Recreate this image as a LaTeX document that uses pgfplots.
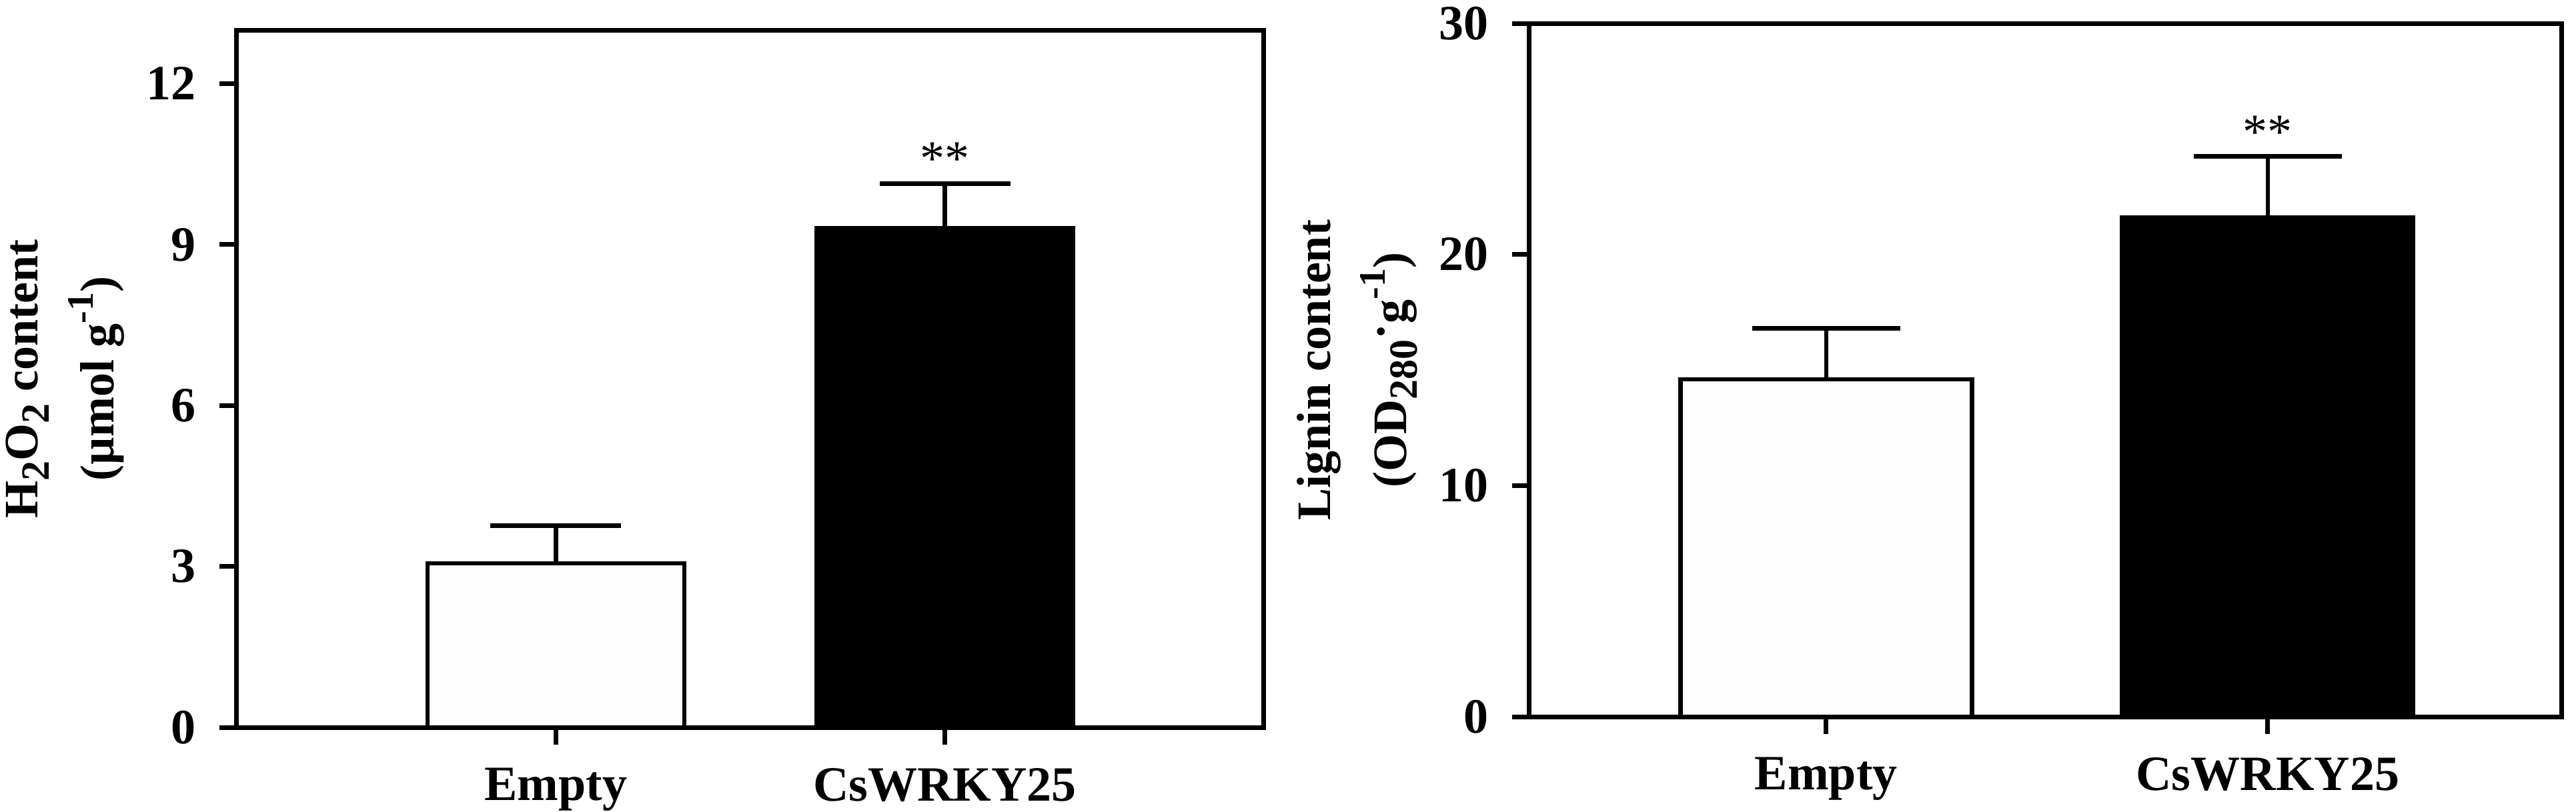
\documentclass[border=0pt]{standalone}
\usepackage{fontspec}
\setmainfont{Liberation Serif}
\usepackage{pgfplots}
\pgfplotsset{compat=1.18}
\newcommand{\sub}[1]{\raisebox{-0.5ex}{\fontsize{6}{6}\selectfont #1}}
\newcommand{\sups}[1]{\raisebox{0.95ex}{\fontsize{5.6}{6}\selectfont #1}}
\begin{document}
\begin{tikzpicture}
\path[use as bounding box] (0,0) rectangle (386.2pt,121.7pt);
\pgfplotsset{
 myax/.style={
  scale only axis,
  axis line style={line width=0.7pt},
  ybar, bar width=0.66,
  xtick={0,1}, xticklabels={Empty,CsWRKY25},
  tick align=outside, tick pos=left,
  major tick length=2.6pt,
  every tick/.style={black, line width=0.7pt},
  ymin=0,
  /pgf/number format/assume math mode=true,
  tick label style={font=\fontsize{7.4}{8}\selectfont\bfseries},
  ylabel style={font=\fontsize{7.2}{11.4}\selectfont\bfseries, align=center, at={(axis description cs:-0.167,0.5)}, anchor=center},
 },
 mybar/.style={draw=black, line width=0.65pt, bar shift=0pt,
  error bars/y dir=plus, error bars/y explicit,
  error bars/error bar style={line width=0.65pt, black},
  error bars/error mark options={rotate=90, mark size=#1, line width=0.7pt, black}},
}
\begin{axis}[myax, at={(35.5pt,12.6pt)}, anchor=south west,
  width=154pt, height=104.6pt,
  xmin=-0.82, xmax=1.82, ymax=13, ytick={0,3,6,9,12},
  ylabel={H\sub{2}O\sub{2} content\\(µmol g\sups{-1})}]
\addplot[fill=white!99.3!black, mybar=9.8pt] coordinates {(0,3.06) +- (0,0.70)};
\addplot[fill=black, mybar=9.8pt] coordinates {(1,9.30) +- (0,0.84)};
\node[font=\fontsize{7.4}{8}\selectfont] at (axis cs:1,10.6) {**};
\end{axis}
\begin{axis}[myax, at={(229.3pt,14.2pt)}, anchor=south west,
  width=154.7pt, height=104.0pt,
  xmin=-0.672, xmax=1.665, ymax=30, ytick={0,10,20,30},
  ylabel={Lignin content\\(OD\sub{280}\raisebox{0.4ex}{·}g\sups{-1})}]
\addplot[fill=white!99.3!black, mybar=11.1pt] coordinates {(0,14.6) +- (0,2.2)};
\addplot[fill=black, mybar=11.1pt] coordinates {(1,21.6) +- (0,2.64)};
\node[font=\fontsize{7.4}{8}\selectfont] at (axis cs:1,25.3) {**};
\end{axis}
\end{tikzpicture}
\end{document}
